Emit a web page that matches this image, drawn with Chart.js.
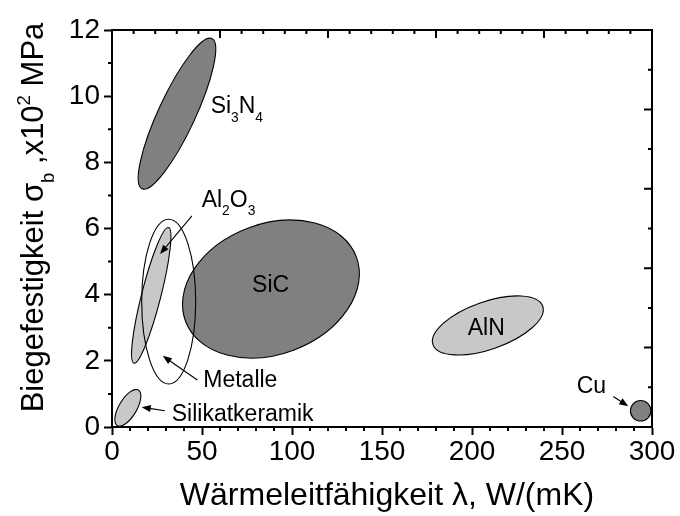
<!DOCTYPE html>
<html>
<head>
<meta charset="utf-8">
<script src="https://cdn.jsdelivr.net/npm/chart.js@4/dist/chart.umd.min.js"></script>
<style>
  html, body { margin: 0; padding: 0; background: #fff; }
</style>
</head>
<body>
<canvas id="chart" width="680" height="516"></canvas>
<script>
// Each material region is an ellipse given in data units:
// its centre, the end of one semi-axis (A) and the end of the other (B).
const materials = ["Si3N4", "SiC", "AlN", "Al2O3", "Silikatkeramik", "Cu", "Metalle"];
const centerLambda = [36.1, 88.3, 208.8, 21.8, 8.8, 293.7, 31.5];
const centerSigma = [9.47, 4.17, 3.07, 3.98, 0.58, 0.49, 3.79];
const axisALambda = [55.5, 135.7, 239.3, 31.4, 14.6, 299.4, 31.5];
const axisASigma = [11.74, 5.15, 3.65, 6.03, 1.12, 0.49, 6.28];
const axisBLambda = [45.4, 101.2, 213.1, 27.0, 13.1, 293.7, 46.5];
const axisBSigma = [9.23, 2.33, 2.39, 3.91, 0.45, 0.80, 3.79];

const xTicks = [0, 50, 100, 150, 200, 250, 300];
const yTicks = [0, 2, 4, 6, 8, 10, 12];

// fill per material (null = outline only)
const fills = ["#808080", "#808080", "#c8c8c8", "#c8c8c8", "#c8c8c8", "#808080", null];

const FONT = '"Liberation Sans", Arial, sans-serif';

// region labels, anchored in data units; parts: [text, "sub"|"sup"]
const regionLabels = [
  { parts: [["Si"], ["3", "sub"], ["N"], ["4", "sub"]], at: [54.8, 9.48], align: "left" },
  { parts: [["Al"], ["2", "sub"], ["O"], ["3", "sub"]], at: [49.8, 6.66], align: "left" },
  { parts: [["SiC"]], at: [88.1, 4.07], align: "center" },
  { parts: [["AlN"]], at: [207.9, 2.78], align: "center" },
  { parts: [["Metalle"]], at: [50.7, 1.22], align: "left" },
  { parts: [["Silikatkeramik"]], at: [33.2, 0.19], align: "left" },
  { parts: [["Cu"]], at: [258.2, 1.02], align: "left" }
];

// pointer arrows: tail -> head, data units
const arrows = [
  { from: [44.4, 6.38], to: [26.7, 5.23] },
  { from: [47.4, 1.42], to: [28.2, 2.15] },
  { from: [29.4, 0.49], to: [16.5, 0.60] },
  { from: [278.5, 0.92], to: [286.8, 0.63] }
];

function drawRich(ctx, parts, x, y, size, align) {
  const sizeOf = k => (k ? size * 0.6 : size);
  let w = 0;
  parts.forEach(([t, k]) => {
    ctx.font = `${sizeOf(k)}px ${FONT}`;
    w += ctx.measureText(t).width;
  });
  let px = align === "center" ? x - w / 2 : x;
  ctx.textAlign = "left";
  ctx.textBaseline = "alphabetic";
  parts.forEach(([t, k]) => {
    ctx.font = `${sizeOf(k)}px ${FONT}`;
    const dy = k === "sub" ? size * 0.36 : k === "sup" ? -size * 0.42 : 0;
    ctx.fillText(t, px, y + dy);
    px += ctx.measureText(t).width;
  });
}

function drawArrow(ctx, x1, y1, x2, y2) {
  const ang = Math.atan2(y2 - y1, x2 - x1);
  const len = 9, half = 3.5;
  const c = Math.cos(ang), s = Math.sin(ang);
  ctx.beginPath();
  ctx.moveTo(x1, y1);
  ctx.lineTo(x2 - len * 0.7 * c, y2 - len * 0.7 * s);
  ctx.stroke();
  ctx.beginPath();
  ctx.moveTo(x2, y2);
  ctx.lineTo(x2 - len * c + half * s, y2 - len * s - half * c);
  ctx.lineTo(x2 - len * c - half * s, y2 - len * s + half * c);
  ctx.closePath();
  ctx.fill();
}

// ellipses, labels and arrows, all placed through the chart scales
const regions = {
  id: "regions",
  afterDatasetsDraw(chart) {
    const { ctx, scales: { x, y } } = chart;
    ctx.save();
    materials.forEach((m, i) => {
      const cx = x.getPixelForValue(centerLambda[i]);
      const cy = y.getPixelForValue(centerSigma[i]);
      const ux = x.getPixelForValue(axisALambda[i]) - cx;
      const uy = y.getPixelForValue(axisASigma[i]) - cy;
      const vx = x.getPixelForValue(axisBLambda[i]) - cx;
      const vy = y.getPixelForValue(axisBSigma[i]) - cy;
      ctx.save();
      ctx.transform(ux, uy, vx, vy, cx, cy);
      ctx.beginPath();
      ctx.arc(0, 0, 1, 0, Math.PI * 2);
      ctx.restore();
      if (fills[i]) {
        ctx.fillStyle = fills[i];
        ctx.fill();
      }
      ctx.strokeStyle = "#000";
      ctx.lineWidth = 1.1;
      ctx.stroke();
    });

    ctx.fillStyle = "#000";
    regionLabels.forEach(l => {
      drawRich(ctx, l.parts, x.getPixelForValue(l.at[0]), y.getPixelForValue(l.at[1]), 23, l.align);
    });

    ctx.lineWidth = 1.1;
    arrows.forEach(a => {
      drawArrow(ctx,
        x.getPixelForValue(a.from[0]), y.getPixelForValue(a.from[1]),
        x.getPixelForValue(a.to[0]), y.getPixelForValue(a.to[1]));
    });
    ctx.restore();
  }
};

// closed frame, minor ticks and the mirrored top/right ticks
const frame = {
  id: "frame",
  afterDraw(chart) {
    const { ctx, chartArea: a, scales: { x, y } } = chart;
    ctx.save();
    ctx.strokeStyle = "#000";
    ctx.lineWidth = 2;
    ctx.beginPath();
    ctx.moveTo(a.left - 1, a.top);
    ctx.lineTo(a.right, a.top);
    ctx.lineTo(a.right, a.bottom + 1);
    ctx.stroke();

    ctx.beginPath();
    for (let v = 10; v < 300; v += 10) {
      if (v % 50 === 0) continue;
      const px = x.getPixelForValue(v);
      ctx.moveTo(px, a.bottom); ctx.lineTo(px, a.bottom + 4);
    }
    for (let v = 1; v < 12; v += 2) {
      const py = y.getPixelForValue(v);
      ctx.moveTo(a.left, py); ctx.lineTo(a.left - 4, py);
    }
    // top edge: majors every 60, minors every 12
    for (let i = 1; i < 25; i++) {
      const px = x.getPixelForValue(i * 12);
      ctx.moveTo(px, a.top); ctx.lineTo(px, a.top + (i % 5 === 0 ? 8 : 4));
    }
    // right edge: majors every 2.4, minors every 1.2
    for (let i = 1; i < 10; i++) {
      const py = y.getPixelForValue(i * 1.2);
      ctx.moveTo(a.right, py); ctx.lineTo(a.right - (i % 2 === 0 ? 8 : 4), py);
    }
    ctx.stroke();

    // axis titles
    ctx.fillStyle = "#000";
    drawRich(ctx, [["Wärmeleitfähigkeit λ, W/(mK)"]], (a.left + a.right) / 2 + 5, 505, 32, "center");
    ctx.save();
    ctx.translate(43, (a.top + a.bottom) / 2 - 11);
    ctx.rotate(-Math.PI / 2);
    drawRich(ctx, [["Biegefestigkeit σ"], ["b", "sub"], [" ,x10"], ["2", "sup"], [" MPa"]], 0, 0, 31, "center");
    ctx.restore();
    ctx.restore();
  }
};

const axisCommon = {
  type: "linear",
  grid: { drawOnChartArea: false, drawTicks: true, tickLength: 8, tickWidth: 2, tickColor: "#000" },
  border: { display: true, width: 2, color: "#000" }
};

new Chart(document.getElementById("chart"), {
  type: "scatter",
  data: {
    datasets: [{
      data: materials.map((m, i) => ({ x: centerLambda[i], y: centerSigma[i] })),
      pointRadius: 0,
      pointHoverRadius: 0
    }]
  },
  options: {
    responsive: false,
    animation: false,
    devicePixelRatio: 1,
    layout: { padding: { top: 30, right: 28, left: 0, bottom: 0 } },
    plugins: { legend: { display: false }, tooltip: { enabled: false } },
    scales: {
      x: {
        ...axisCommon,
        position: "bottom",
        min: 0, max: 300,
        afterBuildTicks: s => { s.ticks = xTicks.map(v => ({ value: v })); },
        afterFit: s => { s.height = 89; },
        ticks: { color: "#000", font: { family: FONT, size: 28 }, padding: 0, maxRotation: 0 }
      },
      y: {
        ...axisCommon,
        position: "left",
        min: 0, max: 12,
        afterBuildTicks: s => { s.ticks = yTicks.map(v => ({ value: v })); },
        afterFit: s => { s.width = 112; },
        ticks: { color: "#000", font: { family: FONT, size: 28 }, padding: 4 }
      }
    }
  },
  plugins: [regions, frame]
});
</script>
</body>
</html>
